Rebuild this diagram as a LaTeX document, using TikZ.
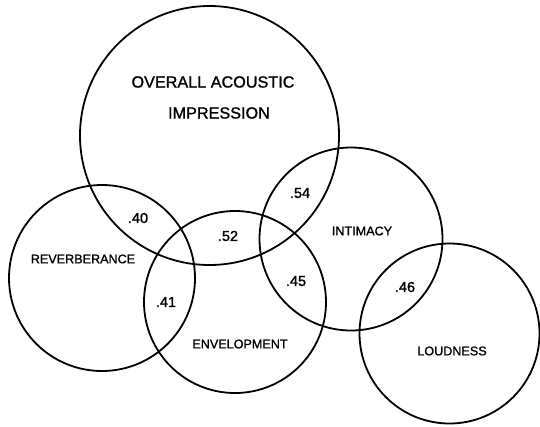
\documentclass[tikz,border=0pt]{standalone}
\usepackage{fontspec}
\setmainfont[FakeBold=1.2]{Liberation Sans}
\begin{document}
\begin{tikzpicture}[x=1pt,y=-1pt,
  ring/.style={draw=black,line width=1.8pt,circle,inner sep=0pt},
  bigtxt/.style={font=\fontsize{16.2}{19}\selectfont,inner sep=0pt},
  lbl/.style={font=\fontsize{12.6}{15}\selectfont,inner sep=0pt},
  num/.style={font=\fontsize{14.5}{17}\selectfont,inner sep=0pt}]
\useasboundingbox (0,0) rectangle (540,426);
\fill[white] (0,0) rectangle (540,426);
% circles
\node[ring,minimum size=259pt] (oai) at (209.5,135.5) {};
\node[ring,minimum size=186pt] (rev) at (102,278) {};
\node[ring,minimum size=182pt] (env) at (235,302) {};
\node[ring,minimum size=183pt] (inti) at (351,239) {};
\node[ring,minimum size=180pt] (loud) at (449.5,333.5) {};
% labels
\node[bigtxt] (t1) at (213,82) {OVERALL ACOUSTIC};
\node[bigtxt] (t2) at (219,113) {IMPRESSION};
\node[lbl] (trev) at (83,259) {REVERBERANCE};
\node[lbl] (tenv) at (240,344) {ENVELOPMENT};
\node[lbl] (tint) at (362,231) {INTIMACY};
\node[lbl] (tloud) at (452,351) {LOUDNESS};
% correlations
\node[num] (n40) at (138,218) {.40};
\node[num] (n52) at (228,236) {.52};
\node[num] (n41) at (166,302) {.41};
\node[num] (n54) at (300,193) {.54};
\node[num] (n45) at (296,281) {.45};
\node[num] (n46) at (405,287) {.46};
\end{tikzpicture}
\end{document}
